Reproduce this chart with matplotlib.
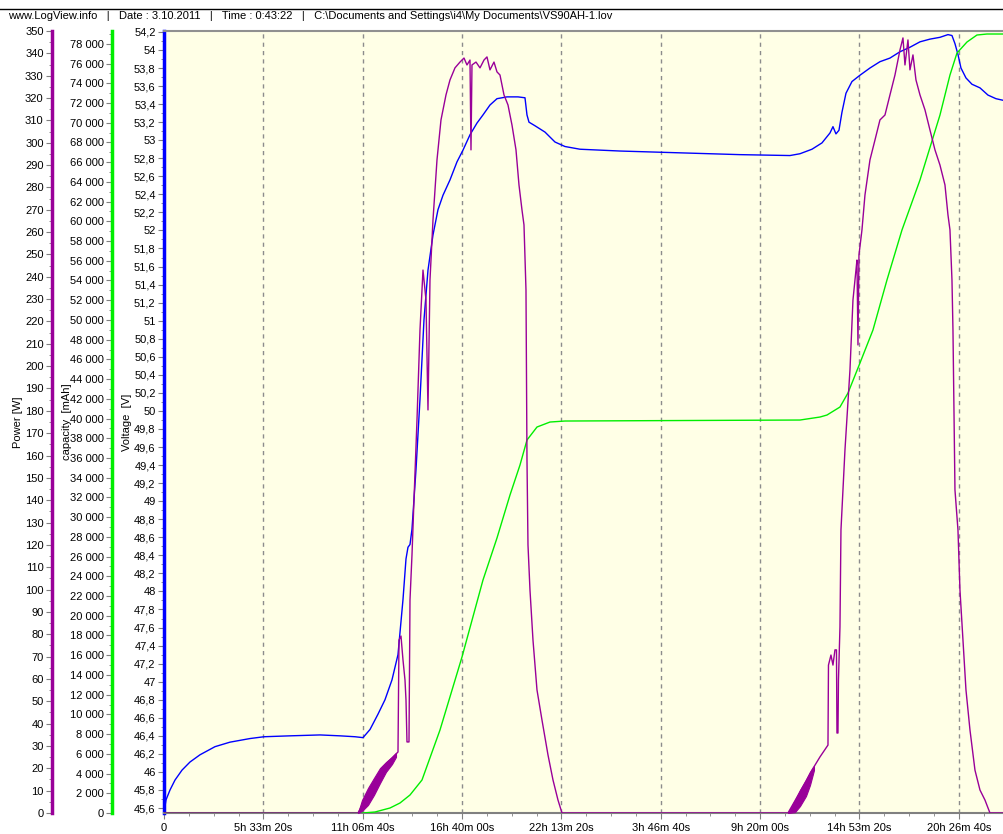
import matplotlib
matplotlib.use('Agg')
import matplotlib.pyplot as plt
from matplotlib.lines import Line2D
from matplotlib.ticker import MultipleLocator, FuncFormatter

plt.rcParams['font.family'] = ['Liberation Sans', 'DejaVu Sans']

# time axis is seconds since start of the log
volt_t = [0, 403, 1208, 2214, 3623, 5234, 7247, 10266, 13286, 17312, 20130, 25364,
          31403, 35429, 38448, 40059, 41468, 43078, 44487, 45896, 47104, 48111,
          48715, 49117, 49520, 49922, 50728, 51533, 52338, 53143, 54150, 55156,
          56163, 57572, 58981, 60189, 61598, 63007, 64215, 65624, 67033, 69046,
          71260, 72669, 73072, 73474, 74682, 76695, 78708, 80721, 83741, 91793,
          103871, 115949, 126014, 128027, 130442, 132455, 134066, 134669, 135273,
          135877, 136481, 137286, 138494, 140104, 142117, 144130, 146144, 148157,
          150170, 152183, 154196, 156209, 157819, 158624, 159228, 159832, 160436,
          161442, 162650, 164261, 165871, 167482, 169092]
volt_v = [45.55, 45.69, 45.80, 45.91, 46.02, 46.11, 46.19, 46.28, 46.33, 46.37, 46.39, 46.40,
          46.41, 46.40, 46.39, 46.38, 46.47, 46.64, 46.80, 47.02, 47.30, 47.91,
          48.36, 48.49, 48.52, 48.69, 49.35, 50.13, 51.01, 51.56, 51.95, 52.23,
          52.39, 52.56, 52.76, 52.89, 53.06, 53.19, 53.28, 53.39, 53.46, 53.48,
          53.48, 53.47, 53.28, 53.20, 53.16, 53.09, 52.98, 52.93, 52.90, 52.88,
          52.86, 52.84, 52.83, 52.85, 52.90, 52.97, 53.08, 53.15, 53.07,
          53.11, 53.31, 53.52, 53.65, 53.72, 53.80, 53.87, 53.91, 53.98,
          54.03, 54.09, 54.12, 54.14, 54.17, 54.16, 54.07, 53.95, 53.80,
          53.69, 53.62, 53.58, 53.50, 53.46, 53.44]

cap_t = [0, 40059, 42474, 45494, 47507, 49520, 51936, 55559, 59988, 64215, 67033,
         69650, 71663, 73072, 75085, 77702, 80721, 128027, 132053, 133462, 136079,
         137689, 140104, 142721, 145539, 148559, 152183, 156209, 158222, 159631,
         161644, 163657, 165671, 169092]
cap_mah = [0, 0, 101, 507, 1014, 1825, 3346, 8416, 15818, 23626, 27885,
           32245, 35287, 37822, 39140, 39647, 39749, 39850, 40154, 40357, 41168,
           42588, 45630, 48977, 54047, 59117, 64187, 70778, 74834, 77065,
           78182, 78893, 78995, 78995]

pow_t = [0, 39052, 41468, 44487, 47104, 47305, 47708, 48111, 48514, 48715, 48916,
         49319, 49520, 49922, 50325, 50929, 51533, 52137, 52741, 53143, 53546,
         54150, 54955, 55760, 56767, 57572, 58578, 59585, 60390, 60994, 61598,
         61799, 62000, 62806, 63611, 64416, 65020, 65624, 66429, 67033, 67637,
         68442, 69248, 70053, 70858, 71462, 72066, 72469, 72871, 73072, 73274,
         73676, 74280, 75085, 76092, 77300, 78306, 79313, 80118, 125612,
         128027, 130442, 132053, 133664, 133764, 134267, 134669, 135072, 135374,
         135474, 135676, 135776, 136079, 136280, 137085, 138092, 138696, 139300,
         139501, 139702, 139904, 140507, 141111, 142117, 143124, 144130, 145137,
         146144, 147150, 147754, 148157, 148761, 149164, 149768, 150170, 150774,
         151378, 152183, 153190, 154196, 155203, 156209, 157216, 157819, 158222,
         158625, 158826, 159228, 159832, 160235, 160839, 161443, 162248, 163254,
         164261, 165268, 166274, 169092]
pow_w = [0, 0, 10.3, 21.5, 27.3, 77.4, 79.2, 68.5, 59.5, 50.6, 31.8,
         31.8, 95.3, 115.5, 140.1, 175.9, 216.2, 243.0, 229.6, 180.4, 238.6,
         265.4, 292.3, 310.2, 321.4, 328.1, 333.5, 336.1, 337.9, 334.8, 337.0,
         296.8, 334.8, 336.1, 333.5, 337.0, 338.4, 332.6, 336.1, 331.7, 330.3,
         321.4, 316.9, 307.9, 296.8, 281.1, 269.9, 263.2, 234.1, 158.0, 120.0,
         99.8, 77.4, 55.1, 41.6, 26.0, 14.8, 5.8, 0, 0,
         9.4, 19.2, 25.1, 30.4, 66.2, 70.7, 66.2, 73.0, 73.0,
         35.8, 35.8, 59.5, 83.3, 126.7, 162.5, 198.3, 229.6, 243.0,
         247.5, 209.5, 249.8, 261.0, 276.6, 292.3, 301.2, 310.2, 312.4,
         321.4, 330.3, 337.0, 341.5, 346.9, 334.8, 346.0, 332.6, 339.3,
         328.1, 321.4, 314.7, 305.7, 296.8, 290.0, 281.1, 267.7, 261.0,
         238.6, 216.2, 144.6, 126.7, 99.8, 77.4, 55.1, 37.2, 19.2,
         10.3, 5.8, 0, 0]

# noisy bands at the start of each charge ramp
ramp1_t = [39052, 39857, 41065, 42273, 43481, 44688, 45896, 46701]
ramp1_hi = [0, 5.8, 11.2, 15.7, 20.1, 22.8, 25.1, 26.9]
ramp1_lo = [0, 0.9, 3.6, 8.1, 13.4, 18.4, 21.9, 25.1]
ramp2_t = [125612, 127021, 128027, 129235, 130040, 130845]
ramp2_hi = [0, 5.8, 10.3, 14.8, 18.4, 21.0]
ramp2_lo = [0, 0.4, 3.1, 7.6, 12.5, 19.2]

header = (r'www.LogView.info   |   Date : 3.10.2011   |   Time : 0:43:22   |   '
          r'C:\Documents and Settings\i4\My Documents\VS90AH-1.lov')

PURPLE = '#990099'
GREEN = '#00ee00'
BLUE = '#0000ff'
W, H = 1004, 834

fig = plt.figure(figsize=(W / 100, H / 100), dpi=100)
left = 164 / W
bottom = 1 - 813 / H
top = 1 - 31 / H
ax = fig.add_axes([left, bottom, 1 - left, top - bottom])
ax.set_facecolor('#ffffe6')


def hms(v, pos):
    s = int(round(v))
    if s == 0:
        return '0'
    s = s % 86400
    return '%dh %02dm %02ds' % (s // 3600, (s % 3600) // 60, s % 60)


def volt_fmt(v, pos):
    txt = '%.1f' % v
    if txt.endswith('.0'):
        txt = txt[:-2]
    return txt.replace('.', ',')


def cap_fmt(v, pos):
    return '{:,}'.format(int(round(v))).replace(',', ' ')


ax.set_xlim(0, 169100)
ax.xaxis.set_major_locator(MultipleLocator(20000))
ax.xaxis.set_minor_locator(MultipleLocator(5000))
ax.xaxis.set_major_formatter(FuncFormatter(hms))
ax.grid(axis='x', which='major', color='#8c8c8c', linestyle=(0, (3, 3)), lw=1)
ax.tick_params(axis='x', which='major', length=4, color='#808080', labelsize=8, pad=3)
ax.tick_params(axis='x', which='minor', length=2, color='#808080')

# voltage axis (main)
ax.plot(volt_t, volt_v, color=BLUE, lw=1.0)
ax.set_ylim(45.545, 54.21)
ax.yaxis.set_major_locator(MultipleLocator(0.2))
ax.yaxis.set_minor_locator(MultipleLocator(0.1))
ax.yaxis.set_major_formatter(FuncFormatter(volt_fmt))

# capacity and power axes
ax_c = ax.twinx()
ax_p = ax.twinx()
ax_c.plot(cap_t, cap_mah, color=GREEN, lw=1.0)
ax_c.set_ylim(0, 79300)
ax_c.yaxis.set_major_locator(MultipleLocator(2000))
ax_c.yaxis.set_minor_locator(MultipleLocator(1000))
ax_c.yaxis.set_major_formatter(FuncFormatter(cap_fmt))

ax_p.fill_between(ramp1_t, ramp1_lo, ramp1_hi, color=PURPLE, lw=0.8)
ax_p.fill_between(ramp2_t, ramp2_lo, ramp2_hi, color=PURPLE, lw=0.8)
ax_p.plot(pow_t, pow_w, color=PURPLE, lw=1.0)
ax_p.set_ylim(0, 350)
ax_p.yaxis.set_major_locator(MultipleLocator(10))
ax_p.yaxis.set_minor_locator(MultipleLocator(5))

for a, pos, col in ((ax, 0.0, BLUE), (ax_c, -52 / 840, GREEN), (ax_p, -112 / 840, PURPLE)):
    a.yaxis.tick_left()
    a.yaxis.set_label_position('left')
    a.spines['left'].set_visible(True)
    a.spines['left'].set_position(('axes', pos))
    a.spines['left'].set_color(col)
    a.spines['left'].set_linewidth(2.5)
    a.spines['right'].set_visible(False)
    a.tick_params(axis='y', which='major', length=4, color='#808080', labelsize=8, pad=2)
    a.tick_params(axis='y', which='minor', length=2, color='#808080')
    a.set_xlim(0, 169100)

for a in (ax_c, ax_p):
    a.spines['top'].set_visible(False)
    a.spines['bottom'].set_visible(False)

ax.spines['top'].set_color('#909090')
ax.spines['top'].set_linewidth(1.5)
ax.spines['bottom'].set_color('#808080')
ax.spines['bottom'].set_linewidth(1.5)

fig.text(18 / W, 1 - 422 / H, 'Power [W]', rotation=90, ha='center', va='center', fontsize=8)
fig.text(67 / W, 1 - 422 / H, 'capacity  [mAh]', rotation=90, ha='center', va='center', fontsize=8)
fig.text(127 / W, 1 - 422 / H, 'Voltage  [V]', rotation=90, ha='center', va='center', fontsize=8)

fig.add_artist(Line2D([0, 1], [1 - 9 / H, 1 - 9 / H], color='black', lw=1))
fig.text(8 / W, 1 - 16 / H, header, ha='left', va='center', fontsize=8)

fig.savefig('out.png', dpi=100, facecolor='white')
